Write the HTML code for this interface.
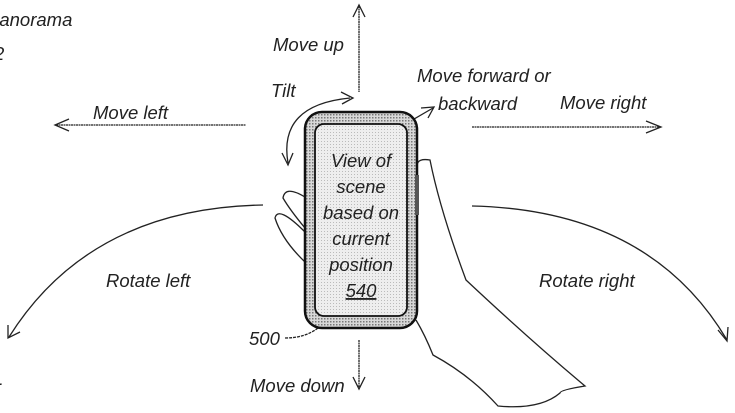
<!DOCTYPE html>
<html><head><meta charset="utf-8"><style>
html,body{margin:0;padding:0;background:#fff;}
svg{display:block}
text{font-family:"Liberation Sans",sans-serif;font-style:italic;font-size:18.5px;fill:#222;}
</style></head><body>
<svg width="735" height="413" viewBox="0 0 735 413" xmlns="http://www.w3.org/2000/svg">
<defs>
<pattern id="dots" width="3" height="3" patternUnits="userSpaceOnUse">
<rect width="3" height="3" fill="#d8d8d8"/><rect width="1.5" height="1.5" fill="#777"/>
</pattern>
<pattern id="dots2" width="3" height="3" patternUnits="userSpaceOnUse">
<rect width="3" height="3" fill="#eee"/><rect width="1" height="1" fill="#bbb"/>
</pattern>
</defs>
<g fill="none" stroke="#222" stroke-width="1.3">
<line x1="359" y1="6" x2="359" y2="92" stroke-dasharray="2 0.5"/>
<path d="M353 17 L359 5 L365 17"/>
<line x1="359" y1="340" x2="359" y2="388" stroke-dasharray="2 0.5"/>
<path d="M353 377 L359 389 L365 377"/>
<line x1="56" y1="125" x2="246" y2="125" stroke-dasharray="2 0.5"/>
<path d="M69 119 L55 125 L69 131"/>
<line x1="472" y1="127" x2="660" y2="127" stroke-dasharray="2 0.5"/>
<path d="M646 121 L661 127 L646 133"/>
<path d="M263 205 Q90 208 9 337"/>
<path d="M8 325 L8 338 L20 332"/>
<path d="M472 206 Q650 210 727 340"/>
<path d="M718 330 L727 341 L728 327"/>
<path d="M288 163 Q278 105 350 98"/>
<path d="M341 92 L353 98 L342 104"/>
<path d="M282 153 L288 165 L293 153"/>
<line x1="378" y1="140" x2="433" y2="108"/>
<path d="M421 108 L434 107 L428 118"/>
<path d="M384 133 L376 141 L389 141"/>
<path d="M285 338 Q305 338 318 328" stroke-dasharray="3 1"/>
<path d="M305 197 Q285 185 283 198 Q290 210 305 228"/>
<path d="M305 232 Q278 205 275 218 Q282 240 305 262"/>
<path d="M417 165 Q418 158 430 160 Q440 210 466 280 Q530 340 585 386 Q560 390 560 393 Q540 410 498 406 Q470 375 433 355 Q425 335 416 320"/>
</g>
<rect x="305" y="112" width="112" height="216" rx="17" fill="url(#dots)" stroke="#111" stroke-width="2.5"/>
<rect x="315" y="124" width="92" height="192" rx="9" fill="url(#dots2)" stroke="#111" stroke-width="1.8"/>
<rect x="415" y="175" width="4" height="40" fill="#555"/>
<g text-anchor="middle">
<text x="361" y="167">View of</text>
<text x="361" y="193">scene</text>
<text x="361" y="219">based on</text>
<text x="361" y="245">current</text>
<text x="361" y="271">position</text>
<text x="361" y="297" text-decoration="underline">540</text>
</g>
<text x="-13" y="26">Panorama</text>
<text x="-6" y="60">2</text>
<text x="273" y="51">Move up</text>
<text x="271" y="97">Tilt</text>
<text x="93" y="119">Move left</text>
<text x="417" y="82">Move forward or</text>
<text x="438" y="110">backward</text>
<text x="560" y="109">Move right</text>
<text x="106" y="287">Rotate left</text>
<text x="539" y="287">Rotate right</text>
<text x="249" y="345">500</text>
<text x="250" y="392">Move down</text>
<text x="-4" y="389">-</text>
</svg>
</body></html>
